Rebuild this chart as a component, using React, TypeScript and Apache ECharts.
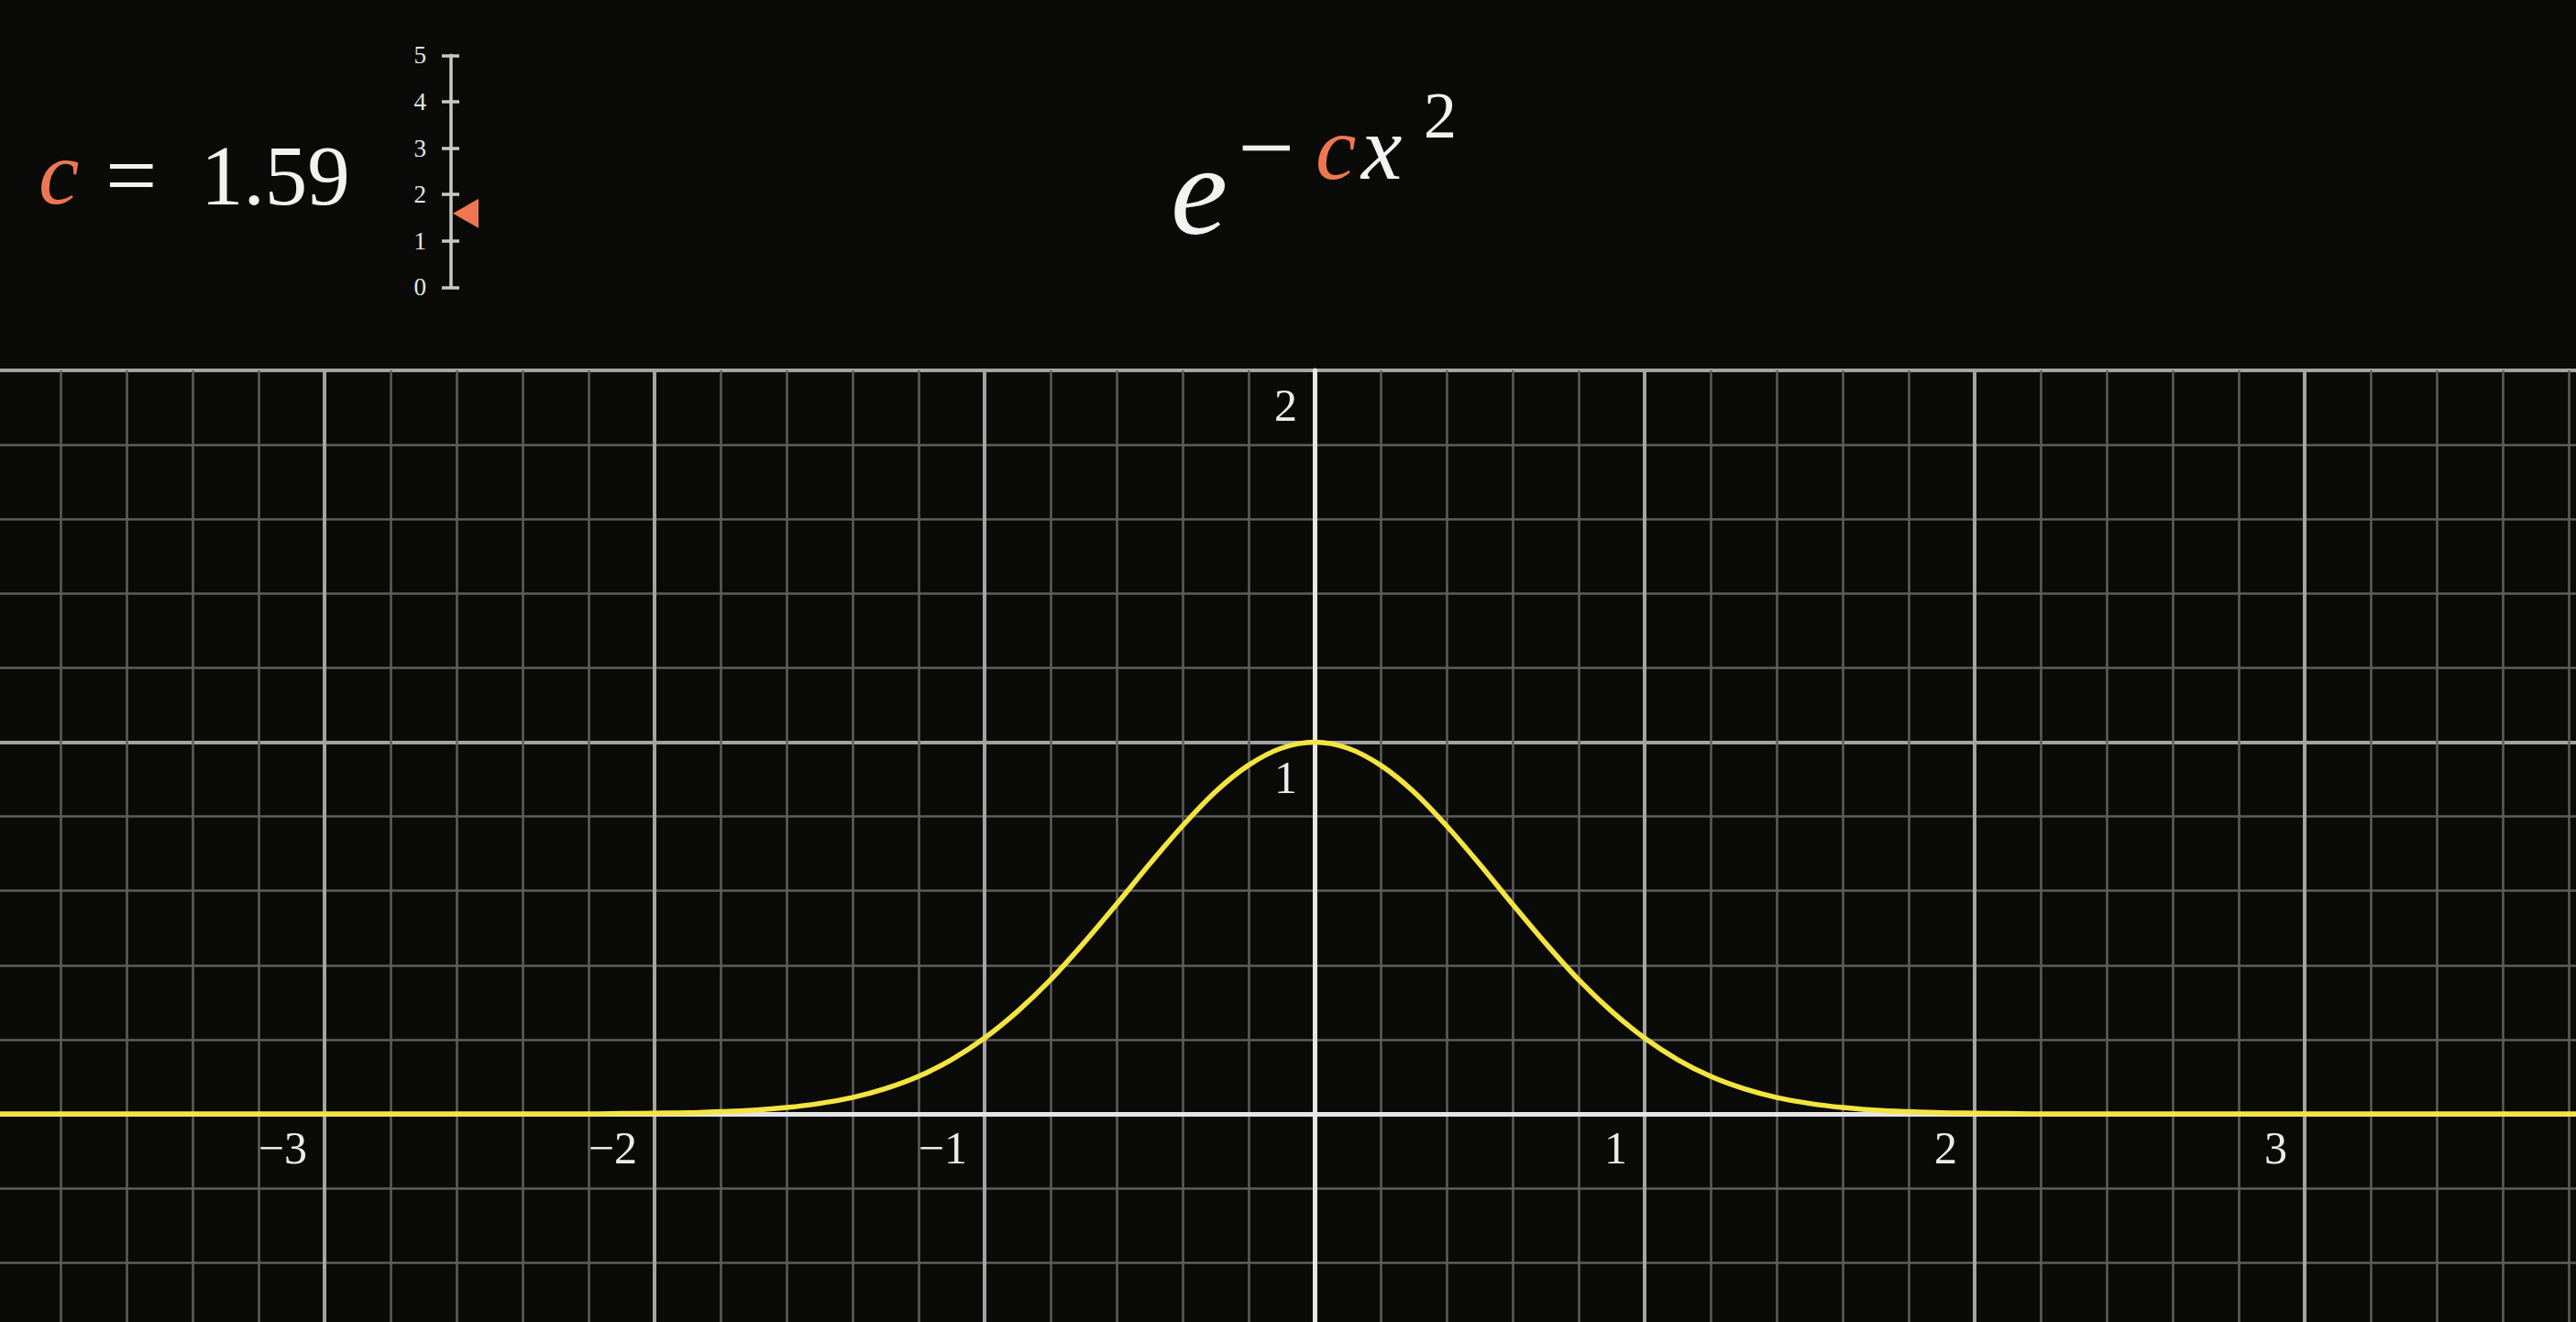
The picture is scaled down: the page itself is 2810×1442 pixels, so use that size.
import React, { useEffect, useRef } from "react";
import * as echarts from "echarts";

// ---- data ----
const C_VALUE = 1.59;
const SLIDER_MIN = 0;
const SLIDER_MAX = 5;
const X_TICK_LABELS = [-3, -2, -1, 1, 2, 3];
const Y_TICK_LABELS = [1, 2];
const X_RANGE = [-4, 4];
const Y_RANGE = [-1, 2];

const CURVE_X = [
  -4, -3.5, -3, -2.5, -2.2, -2.1, -2.0, -1.9, -1.8, -1.7, -1.6, -1.5, -1.4, -1.3, -1.2, -1.1,
  -1.0, -0.9, -0.8, -0.7, -0.6, -0.5, -0.4, -0.3, -0.2, -0.1, 0,
  0.1, 0.2, 0.3, 0.4, 0.5, 0.6, 0.7, 0.8, 0.9, 1.0,
  1.1, 1.2, 1.3, 1.4, 1.5, 1.6, 1.7, 1.8, 1.9, 2.0, 2.1, 2.2, 2.5, 3, 3.5, 4,
];
const CURVE_Y = [
  0, 0, 0, 0, 0, 0.001, 0.002, 0.003, 0.006, 0.01, 0.017, 0.028, 0.044, 0.068, 0.101, 0.146,
  0.204, 0.276, 0.361, 0.459, 0.564, 0.672, 0.775, 0.867, 0.938, 0.984, 1,
  0.984, 0.938, 0.867, 0.775, 0.672, 0.564, 0.459, 0.361, 0.276, 0.204,
  0.146, 0.101, 0.068, 0.044, 0.028, 0.017, 0.01, 0.006, 0.003, 0.002, 0.001, 0, 0, 0, 0, 0,
];

const BG = "#0a0b08";
const ORANGE = "#ee7752";
const YELLOW = "#f3e441";
const WHITE = "#f2f2f2";
const SERIF = "Liberation Serif";

// plot geometry (pixels)
const GRID_LEFT = -6;
const GRID_RIGHT = -64;
const GRID_TOP = 404;
const GRID_BOTTOM = -178.5;
const UNIT_X = 360;
const UNIT_Y = 405.5;

function fmt(v: number): string {
  return v < 0 ? "\u2212" + Math.abs(v) : String(v);
}

function pick(list: number[]) {
  return (v: number) => {
    const r = Math.round(v);
    return Math.abs(v - r) < 1e-6 && list.indexOf(r) >= 0 ? fmt(r) : "";
  };
}

export default function App() {
  const ref = useRef<HTMLDivElement>(null);

  useEffect(() => {
    if (!ref.current) return;
    const chart = echarts.init(ref.current, null, { renderer: "svg", width: 2810, height: 1442 });

    const curve = CURVE_X.map((x, i) => [x, CURVE_Y[i]]);

    const text = (t: string, x: number, y: number, size: number, color: string, italic: boolean) => ({
      type: "text",
      x,
      y,
      z: 10,
      style: {
        text: t,
        fill: color,
        fontSize: size,
        fontFamily: SERIF,
        fontStyle: italic ? "italic" : "normal",
        align: "left",
        verticalAlign: "middle",
      },
    });

    // offsets that bring each axis onto the other axis' zero
    const xAxisOffset = -(0 - Y_RANGE[0]) * UNIT_Y;
    const yAxisOffset = -(0 - X_RANGE[0]) * UNIT_X;

    const option: any = {
      animation: false,
      backgroundColor: BG,
      grid: [
        { left: GRID_LEFT, right: GRID_RIGHT, top: GRID_TOP, bottom: GRID_BOTTOM, containLabel: false, outerBoundsMode: "none" },
        { left: 482, width: 19, top: 60.3, height: 253, containLabel: false, outerBoundsMode: "none" },
      ],
      xAxis: [
        {
          type: "value",
          gridIndex: 0,
          min: X_RANGE[0],
          max: X_RANGE[1],
          interval: 1,
          position: "bottom",
          offset: xAxisOffset,
          axisLine: { show: true, onZero: false, lineStyle: { color: "#e4e4e4", width: 5 } },
          axisTick: { show: false },
          axisLabel: {
            show: true,
            showMinLabel: true,
            showMaxLabel: true,
            hideOverlap: false,
            formatter: pick(X_TICK_LABELS),
            color: "#ececec",
            fontFamily: SERIF,
            fontSize: 50,
            align: "right",
            verticalAlign: "top",
            padding: [0, 19, 0, 0],
            margin: 12,
          },
          splitLine: { show: true, lineStyle: { color: "#a3a3a3", width: 4 } },
          minorTick: { show: false, splitNumber: 5 },
          minorSplitLine: { show: true, lineStyle: { color: "#5e5e5e", width: 2.5 } },
        },
        { type: "value", gridIndex: 1, min: -1, max: 1, show: false },
      ],
      yAxis: [
        {
          type: "value",
          gridIndex: 0,
          min: Y_RANGE[0],
          max: Y_RANGE[1],
          interval: 1,
          position: "left",
          offset: yAxisOffset,
          axisLine: { show: true, onZero: false, lineStyle: { color: "#e4e4e4", width: 5 } },
          axisTick: { show: false },
          axisLabel: {
            show: true,
            showMinLabel: true,
            showMaxLabel: true,
            hideOverlap: false,
            formatter: pick(Y_TICK_LABELS),
            color: "#ececec",
            fontFamily: SERIF,
            fontSize: 50,
            align: "right",
            verticalAlign: "top",
            padding: [13, 0, 0, 0],
            margin: 19,
          },
          splitLine: { show: true, lineStyle: { color: "#a3a3a3", width: 4 } },
          minorTick: { show: false, splitNumber: 5 },
          minorSplitLine: { show: true, lineStyle: { color: "#5e5e5e", width: 2.5 } },
        },
        {
          type: "value",
          gridIndex: 1,
          min: SLIDER_MIN,
          max: SLIDER_MAX,
          interval: 1,
          axisLine: { show: true, onZero: true, lineStyle: { color: "#c8c8c8", width: 3.5 } },
          axisTick: { show: false },
          axisLabel: {
            show: true,
            showMinLabel: true,
            showMaxLabel: true,
            color: "#e6e6e6",
            fontFamily: SERIF,
            fontSize: 27,
            margin: 17,
          },
          splitLine: { show: true, lineStyle: { color: "#c8c8c8", width: 3.5 } },
        },
      ],
      series: [
        {
          type: "line",
          xAxisIndex: 0,
          yAxisIndex: 0,
          data: curve,
          showSymbol: false,
          smooth: 0.3,
          lineStyle: { color: YELLOW, width: 5.5 },
          z: 5,
        },
        {
          type: "scatter",
          xAxisIndex: 1,
          yAxisIndex: 1,
          data: [[0, C_VALUE]],
          symbol: "path://M0,16L28,0L28,32Z",
          symbolSize: [28, 32],
          symbolOffset: [16.5, 0],
          itemStyle: { color: ORANGE, opacity: 1 },
          clip: false,
          z: 5,
        },
      ],
      graphic: [
        text("c", 42, 188, 100, ORANGE, true),
        text("=", 115, 191, 100, WHITE, false),
        text(C_VALUE.toFixed(2), 219, 191, 93, WHITE, false),
        text("e", 1277, 207, 140, WHITE, true),
        text("\u2212", 1350, 161, 110, WHITE, false),
        text("c", 1435, 161, 100, ORANGE, true),
        text("x", 1485, 161, 100, WHITE, true),
        text("2", 1553, 126, 72, WHITE, false),
      ],
    };

    chart.setOption(option);
    return () => chart.dispose();
  }, []);

  return (
    <div
      ref={ref}
      style={{
        position: "absolute",
        left: 0,
        top: 0,
        width: 2810,
        height: 1442,
        background: BG,
        overflow: "hidden",
      }}
    />
  );
}
